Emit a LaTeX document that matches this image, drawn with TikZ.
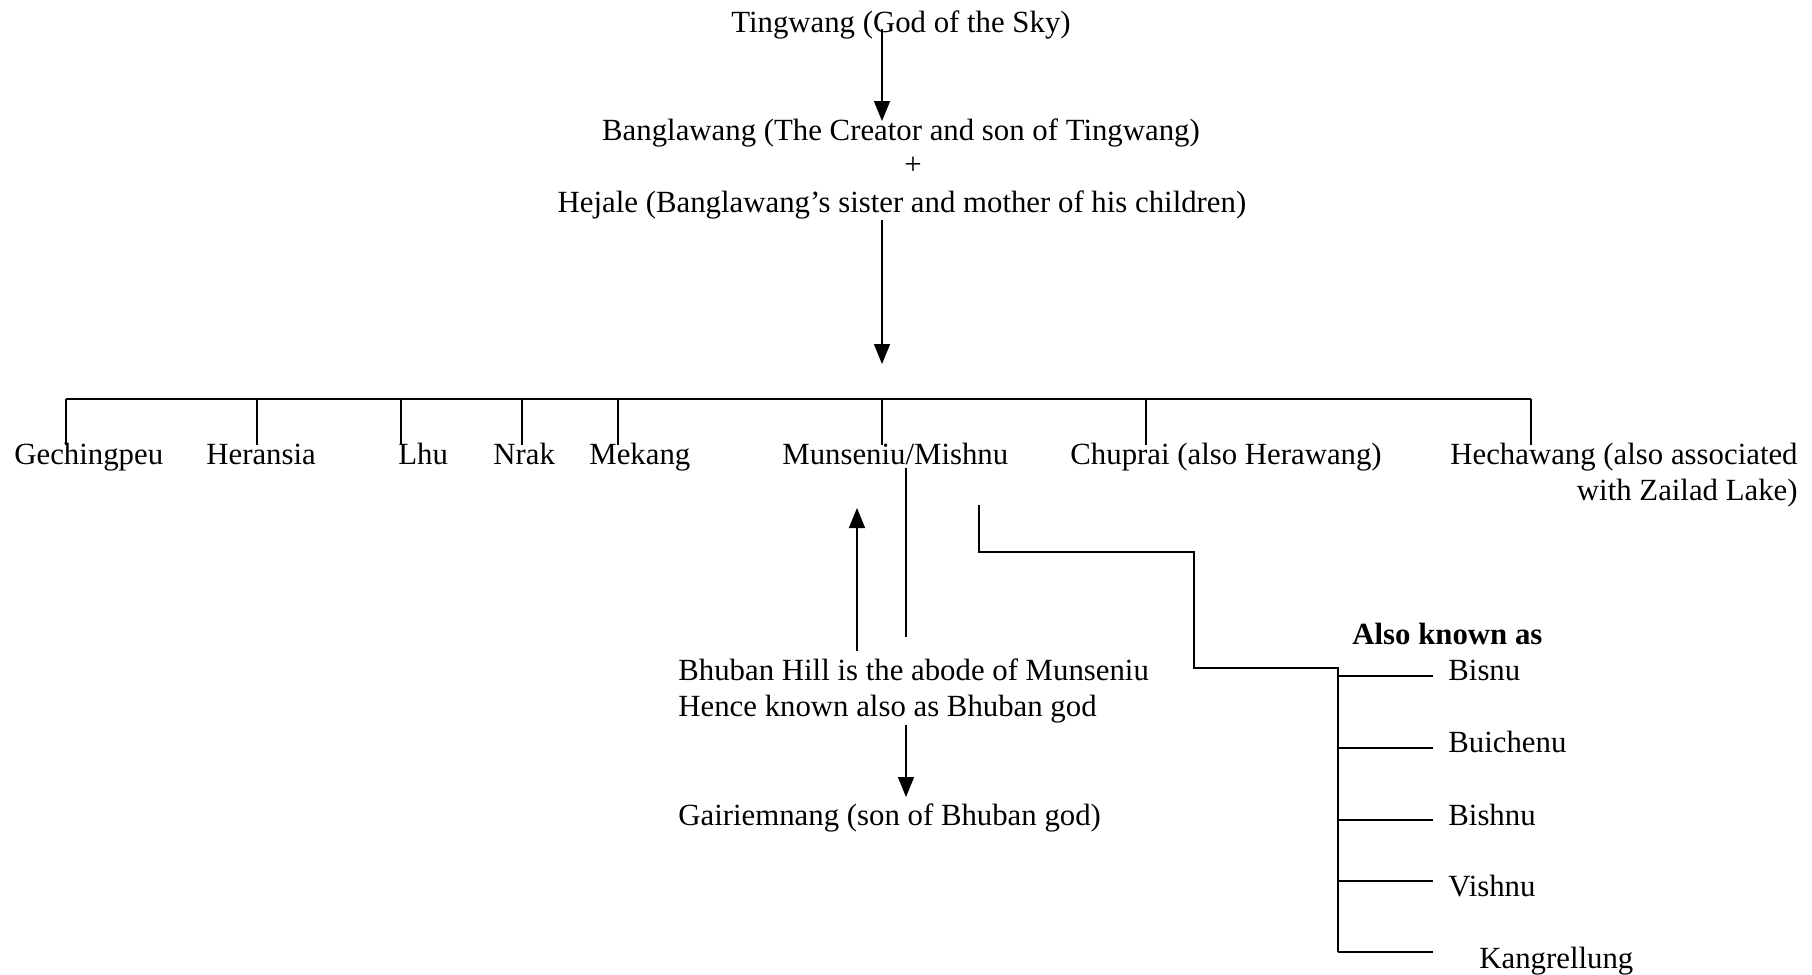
\documentclass[tikz,border=0pt]{standalone}
\usepackage{fontspec}
\setmainfont{Liberation Serif}
\usetikzlibrary{arrows.meta}
\begin{document}
\begin{tikzpicture}[x=0.5pt,y=-0.5pt,
  lbl/.style={inner sep=0pt, anchor=base, font=\fontsize{15.4}{18}\selectfont},
  lw/.style={lbl, anchor=base west},
  ln/.style={line width=0.8pt},
  bar/.style={line width=1.1pt},
  arr/.style={line width=0.8pt,-{Triangle[length=10pt,width=8pt]}}]
\useasboundingbox (0,0) rectangle (1812,975);
% top texts
\node[lbl] (ting) at (901,32) {Tingwang (God of the Sky)};
\node[lbl] (bang) at (901,140) {Banglawang (The Creator and son of Tingwang)};
\node[lbl] (plus) at (913,174) {+};
\node[lbl] (hej) at (902,212) {Hejale (Banglawang’s sister and mother of his children)};
% arrows
\coordinate (a1s) at (882,29);
\coordinate (a1e) at (882,121);
\draw[arr] (a1s) -- (a1e);
\coordinate (a2s) at (882,220);
\coordinate (a2e) at (882,364);
\draw[arr] (a2s) -- (a2e);
% bar
\coordinate (barL) at (66,399);
\coordinate (barR) at (1531,399);
\draw[bar] (barL) -- (barR);
% children
\node[lw] (c1) at (14,464) {Gechingpeu};
\node[lw] (c2) at (206,464) {Heransia};
\node[lw] (c3) at (398,464) {Lhu};
\node[lw] (c4) at (493,464) {Nrak};
\node[lw] (c5) at (589,464) {Mekang};
\node[lw] (c6) at (782,464) {Munseniu/Mishnu};
\node[lw] (c7) at (1070,464) {Chuprai (also Herawang)};
\node[lbl, anchor=base east] (c8) at (1798,464) {Hechawang (also associated};
\node[lbl, anchor=base east] (c8b) at (1798,500) {with Zailad Lake)};
\foreach \x in {66,257,401,522,618,882,1146,1531}
  \draw[ln] (\x,399) -- (\x,445);
% Munseniu section
\coordinate (m1s) at (906,468);
\coordinate (m1e) at (906,637);
\draw[ln] (m1s) -- (m1e);
\coordinate (upS) at (857,651);
\coordinate (upE) at (857,508);
\draw[arr] (upS) -- (upE);
\node[lw] (bh1) at (678,680) {Bhuban Hill is the abode of Munseniu};
\node[lw] (bh2) at (678,716) {Hence known also as Bhuban god};
\coordinate (dnS) at (906,725);
\coordinate (dnE) at (906,797);
\draw[arr] (dnS) -- (dnE);
\node[lw] (gai) at (678,825) {Gairiemnang (son of Bhuban god)};
% elbow to also known as
\coordinate (e0) at (979,505);
\coordinate (e1) at (979,552);
\coordinate (e2) at (1194,552);
\coordinate (e3) at (1194,668);
\coordinate (e4) at (1338,668);
\coordinate (e5) at (1338,952);
\draw[ln] (e0) -- (e1) -- (e2) -- (e3) -- (e4) -- (e5);
\node[lw, font=\fontsize{15.4}{18}\selectfont\bfseries] (aka) at (1352,644) {Also known as};
\node[lw] (n1) at (1448,680) {Bisnu};
\node[lw] (n2) at (1448,752) {Buichenu};
\node[lw] (n3) at (1448,825) {Bishnu};
\node[lw] (n4) at (1448,896) {Vishnu};
\node[lw] (n5) at (1479,968) {Kangrellung};
\foreach \y in {676,748,820,881,952}
  \draw[ln] (1338,\y) -- (1433,\y);
\end{tikzpicture}
\end{document}
